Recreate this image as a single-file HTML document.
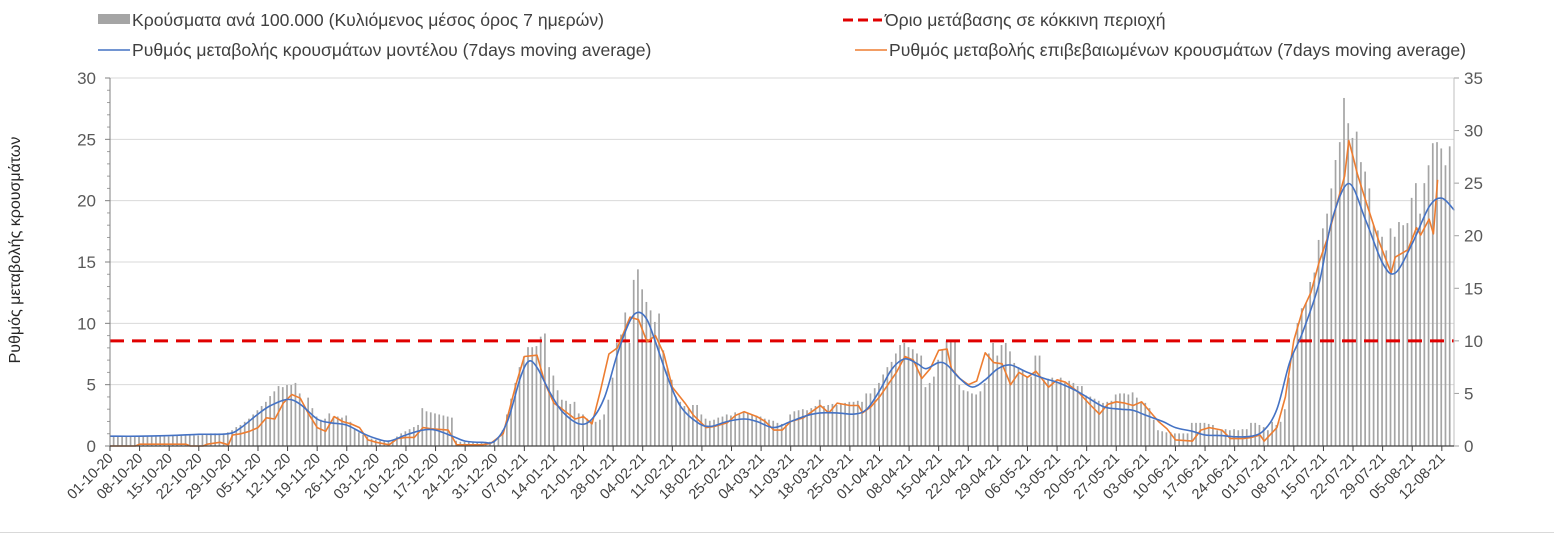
<!DOCTYPE html>
<html><head><meta charset="utf-8"><style>
html,body{margin:0;padding:0;background:#fff;}
svg{display:block;font-family:"Liberation Sans",sans-serif;}
</style></head><body>
<svg id="chart" width="1554" height="535" viewBox="0 0 1554 535">
<rect x="0" y="0" width="1554" height="535" fill="#fff"/>
<line x1="0" y1="532.5" x2="1554" y2="532.5" stroke="#d9d9d9"/>
<g id="legend">
<g>
<rect x="98" y="14" width="32" height="10" fill="#A5A5A5"/>
<text x="132" y="26" font-size="17.6" fill="#404040">Κρούσματα ανά 100.000 (Κυλιόμενος μέσος όρος 7 ημερών)</text></g>
<g>
<line x1="843" y1="20" x2="882" y2="20" stroke="#E00000" stroke-width="3" stroke-dasharray="10 5"/>
<text x="885" y="26" font-size="17.6" fill="#404040">Όριο μετάβασης σε κόκκινη περιοχή</text></g>
<g>
<line x1="98" y1="50" x2="130" y2="50" stroke="#4472C4" stroke-width="1.5"/>
<text x="132" y="56" font-size="17.6" fill="#404040">Ρυθμός μεταβολής κρουσμάτων μοντέλου (7days moving average)</text></g>
<g>
<line x1="855" y1="50" x2="887" y2="50" stroke="#ED7D31" stroke-width="1.5"/>
<text x="889" y="56" font-size="17.6" fill="#404040">Ρυθμός μεταβολής επιβεβαιωμένων κρουσμάτων (7days moving average)</text></g>
</g>
<text x="20" y="250" font-size="16" fill="#262626" text-anchor="middle" transform="rotate(-90 20 250)">Ρυθμός μεταβολής κρουσμάτων</text>
<g id="grid"></g><g id="bars"></g><g id="lines"></g><g id="axes"></g>
</svg>
<script>
const barValues = [0.9,0.9,0.9,0.9,0.9,0.9,0.9,0.9,0.9,0.9,0.9,0.9,0.9,0.9,
1.0,1.0,1.0,1.0,1.0,1.0,1.0,
1.1,1.1,1.2,1.2,1.2,1.2,1.3,
1.5,1.8,2.0,2.3,2.6,3.0,3.4,
3.8,4.2,4.75,5.2,5.7,5.6,5.8,
5.8,6.0,5.0,3.7,4.6,3.6,2.8,
2.5,2.6,3.1,2.8,2.8,2.7,2.9,
2.3,1.6,1.3,1.1,0.9,0.7,0.6,
0.5,0.5,0.5,0.6,0.9,1.2,1.4,
1.6,1.8,2.0,3.6,3.3,3.2,3.1,
3.0,2.9,2.8,2.7,0.5,0.4,0.4,
0.4,0.4,0.4,0.4,0.4,0.4,0.5,
0.8,1.5,3.0,4.5,6.0,7.5,8.5,
9.4,9.4,9.5,10.4,10.7,7.5,6.7,
5.3,4.4,4.3,4.0,4.2,3.1,3.0,
2.6,2.4,2.3,2.5,3.0,4.4,6.5,
9.8,10.6,12.7,9.8,15.8,16.8,14.9,
13.7,12.9,11.8,12.6,9.1,7.4,6.3,
4.7,4.2,3.8,3.6,3.9,3.9,3.0,
2.6,2.4,2.5,2.7,2.8,3.0,2.9,
3.2,3.0,3.3,3.1,3.0,2.9,2.8,
2.6,2.5,2.4,2.2,2.1,2.0,3.0,
3.3,3.4,3.5,3.4,3.6,3.8,4.4,
3.8,3.9,4.0,3.9,4.0,4.1,4.2,
4.2,4.3,4.2,5.0,5.0,5.5,6.0,
6.8,7.5,8.0,8.8,9.6,9.8,9.4,
9.2,8.8,8.6,5.6,6.0,6.6,8.2,
9.2,10.0,10.1,10.0,5.8,5.3,5.2,
5.0,4.9,5.2,6.0,8.8,9.8,8.6,
9.6,9.8,9.0,7.9,7.5,7.2,6.6,
6.6,8.6,8.6,6.3,6.4,6.5,6.3,
6.5,6.0,6.2,6.0,5.7,5.7,4.8,
4.7,4.5,4.3,4.1,4.2,4.3,4.9,
5.0,5.0,4.9,5.1,4.6,4.1,4.1,
3.6,2.5,1.5,1.4,1.3,1.3,1.2,
1.2,1.2,1.2,2.2,2.2,2.2,2.2,
2.1,2.0,1.5,1.5,1.6,1.5,1.6,
1.5,1.6,1.6,2.2,2.2,2.0,1.8,
1.5,2.3,2.0,2.3,3.5,6.5,8.9,
11.7,13.1,13.6,15.6,16.5,19.6,20.7,
22.1,24.5,27.2,28.9,33.1,30.7,29.3,
29.9,27.0,26.1,24.5,21.0,20.5,19.9,
18.6,20.7,19.9,21.3,21.0,21.2,23.6,
25.0,22.1,25.0,26.7,28.8,28.9,28.3,
26.7,28.5];
const blueDays = [0,7,14,21,28,31,35,38,42,45,49,52,56,60,63,66,70,74,77,81,84,88,91,94,97,99,101,104,107,111,114,117,120,123,125,127,129,132,135,139,142,146,150,153,157,161,165,168,172,176,179,182,185,188,191,193,196,198,201,204,207,210,213,217,221,224,228,231,235,239,242,245,249,252,256,259,263,266,270,273,276,279,282,286,289,293,297,301,304,308,312,315,318];
const blueValues = [0.8,0.8,0.85,0.95,1.0,1.5,2.6,3.3,3.8,3.4,2.2,1.9,1.7,1.0,0.6,0.4,0.9,1.3,1.3,0.8,0.4,0.3,0.4,2.0,5.5,6.9,6.4,4.4,2.8,1.8,2.2,4.0,7.5,10.2,10.9,10.3,8.5,5.5,3.2,1.9,1.6,2.0,2.2,2.0,1.5,2.0,2.5,2.7,2.7,2.6,3.0,4.5,6.3,7.1,6.7,6.3,6.8,6.6,5.5,4.8,5.4,6.3,6.6,6.0,5.5,5.2,4.6,4.0,3.2,3.0,2.9,2.5,2.0,1.5,1.2,0.9,0.85,0.75,0.8,1.3,3.0,6.8,9.2,13.3,18.4,21.4,18.4,14.9,14.1,16.5,19.5,20.2,19.2];
const orangeDays = [0,6,7,18,19,22,23,26,28,29,31,33,35,37,39,41,43,45,47,49,51,53,55,57,59,61,63,66,68,70,72,74,76,80,82,88,90,93,96,98,101,103,105,107,110,112,114,116,118,120,123,125,127,129,131,133,136,138,141,143,146,148,150,153,155,157,159,161,164,166,168,170,172,175,177,178,180,182,186,188,190,192,194,196,198,199,201,203,205,207,209,211,213,215,217,219,222,224,226,229,232,234,236,238,240,242,244,248,250,252,256,258,260,263,265,268,270,272,273,276,278,280,282,284,286,288,290,292,293,294,295,297,300,303,304,307,309,310,312,313,314];
const orangeValues = [0,0,0.15,0.15,0,0,0.15,0.3,0.1,0.9,1.0,1.2,1.5,2.3,2.2,3.5,4.2,3.9,2.6,1.5,1.2,2.4,2.0,1.8,1.5,0.5,0.3,0.1,0.6,0.7,0.7,1.5,1.4,1.3,0.1,0.1,0.2,1.0,5.0,7.3,7.4,5.0,3.5,3.0,2.2,2.4,1.8,4.5,7.5,8.0,10.5,10.3,8.5,9.0,7.5,4.8,3.5,2.5,1.5,1.6,1.9,2.5,2.8,2.4,2.0,1.3,1.3,2.0,2.3,2.8,3.3,2.7,3.5,3.3,3.3,2.7,3.2,4.0,6.0,7.3,7.0,5.5,6.3,7.8,7.9,6.3,5.5,5.0,5.3,7.6,6.8,6.7,5.0,6.0,5.6,6.1,4.8,5.4,5.2,4.4,3.3,2.6,3.4,3.6,3.5,3.3,3.6,2.0,1.4,0.5,0.4,1.3,1.5,1.3,0.6,0.6,0.7,0.9,0.4,1.5,4.0,8.6,11.0,12.5,15.0,17.0,19.5,22.0,24.9,23.6,22.2,20.0,16.8,14.1,15.4,16.0,17.8,17.2,18.5,17.3,21.7];
const thresholdValue = 10;
const leftTicks = [0,5,10,15,20,25,30];
const rightTicks = [0,5,10,15,20,25,30,35];
const xLabels = ["01-10-20","08-10-20","15-10-20","22-10-20","29-10-20","05-11-20","12-11-20","19-11-20","26-11-20","03-12-20","10-12-20","17-12-20","24-12-20","31-12-20","07-01-21","14-01-21","21-01-21","28-01-21","04-02-21","11-02-21","18-02-21","25-02-21","04-03-21","11-03-21","18-03-21","25-03-21","01-04-21","08-04-21","15-04-21","22-04-21","29-04-21","06-05-21","13-05-21","20-05-21","27-05-21","03-06-21","10-06-21","17-06-21","24-06-21","01-07-21","08-07-21","15-07-21","22-07-21","29-07-21","05-08-21","12-08-21"];

const NS="http://www.w3.org/2000/svg";
const X0=110, DX=4.228, Y0=446, YT=78;
const xs=d=>X0+DX*d;
const yl=v=>Y0-(Y0-YT)*v/30;
const yr=v=>Y0-(Y0-YT)*v/35;
function mk(tag,attrs,parent){const e=document.createElementNS(NS,tag);for(const k in attrs)e.setAttribute(k,attrs[k]);parent.appendChild(e);return e;}
const grid=document.getElementById('grid'),bars=document.getElementById('bars'),lines=document.getElementById('lines'),axes=document.getElementById('axes');

leftTicks.forEach(v=>{
  if(v>0){const g=mk('line',{x1:X0,x2:1454,y1:yl(v),y2:yl(v),stroke:'#d9d9d9','stroke-width':1},grid);
  
  }
  const t=mk('text',{x:96,y:yl(v)+6,'font-size':17,fill:'#595959','text-anchor':'end'},axes);
  t.textContent=v;
  
  
  mk('line',{x1:X0-5,x2:X0,y1:yl(v),y2:yl(v),stroke:'#808080'},axes);
});
for(let v=1;v<30;v++){ if(v%5) mk('line',{x1:X0-3,x2:X0,y1:yl(v),y2:yl(v),stroke:'#a0a0a0'},axes); }
rightTicks.forEach(v=>{
  const t=mk('text',{x:1464,y:yr(v)+6,'font-size':17,fill:'#595959'},axes);
  t.textContent=v;
  
  
  mk('line',{x1:1454,x2:1459,y1:yr(v),y2:yr(v),stroke:'#a0a0a0'},axes);
});
const la=mk('line',{x1:X0,x2:X0,y1:YT,y2:Y0,stroke:'#808080'},axes);


const ra=mk('line',{x1:1454,x2:1454,y1:YT,y2:Y0,stroke:'#bfbfbf'},axes);



barValues.forEach((v,i)=>{
  const r=mk('rect',{x:xs(i)+2.8,y:yr(v),width:1.7,height:Y0-yr(v),fill:'#A5A5A5'},bars);
  
  
});

const th=mk('line',{x1:X0,x2:1454,y1:yr(thresholdValue),y2:yr(thresholdValue),stroke:'#E00000','stroke-width':3,'stroke-dasharray':'14 8'},lines);



let op=orangeDays.map((d,i)=>(i?'L':'M')+xs(d).toFixed(1)+' '+yl(orangeValues[i]).toFixed(1)).join(' ');
const ol=mk('path',{d:op,fill:'none',stroke:'#ED7D31','stroke-width':1.6,'stroke-linejoin':'round'},lines);



const pts=blueDays.map((d,i)=>[xs(d),yl(blueValues[i])]);
let bp='M'+pts[0][0].toFixed(1)+' '+pts[0][1].toFixed(1);
for(let i=0;i<pts.length-1;i++){
  const p0=pts[Math.max(0,i-1)],p1=pts[i],p2=pts[i+1],p3=pts[Math.min(pts.length-1,i+2)];
  const c1=[p1[0]+(p2[0]-p0[0])/6,p1[1]+(p2[1]-p0[1])/6],c2=[p2[0]-(p3[0]-p1[0])/6,p2[1]-(p3[1]-p1[1])/6];
  bp+=` C${c1[0].toFixed(1)} ${c1[1].toFixed(1)} ${c2[0].toFixed(1)} ${c2[1].toFixed(1)} ${p2[0].toFixed(1)} ${p2[1].toFixed(1)}`;
}
const bl=mk('path',{d:bp,fill:'none',stroke:'#4472C4','stroke-width':1.6},lines);



const xa=mk('line',{x1:X0,x2:1454,y1:Y0,y2:Y0,stroke:'#404040','stroke-width':1.2},axes);


xLabels.forEach((s,i)=>{
  const x=xs(i*7);
  mk('line',{x1:x,x2:x,y1:Y0,y2:Y0+5,stroke:'#404040'},axes);
  const t=mk('text',{x:x+4,y:Y0+13,'font-size':14.5,fill:'#404040','text-anchor':'end',transform:`rotate(-45 ${x+4} ${Y0+13})`},axes);
  t.textContent=s;
  
  
});
</script>
</body></html>
